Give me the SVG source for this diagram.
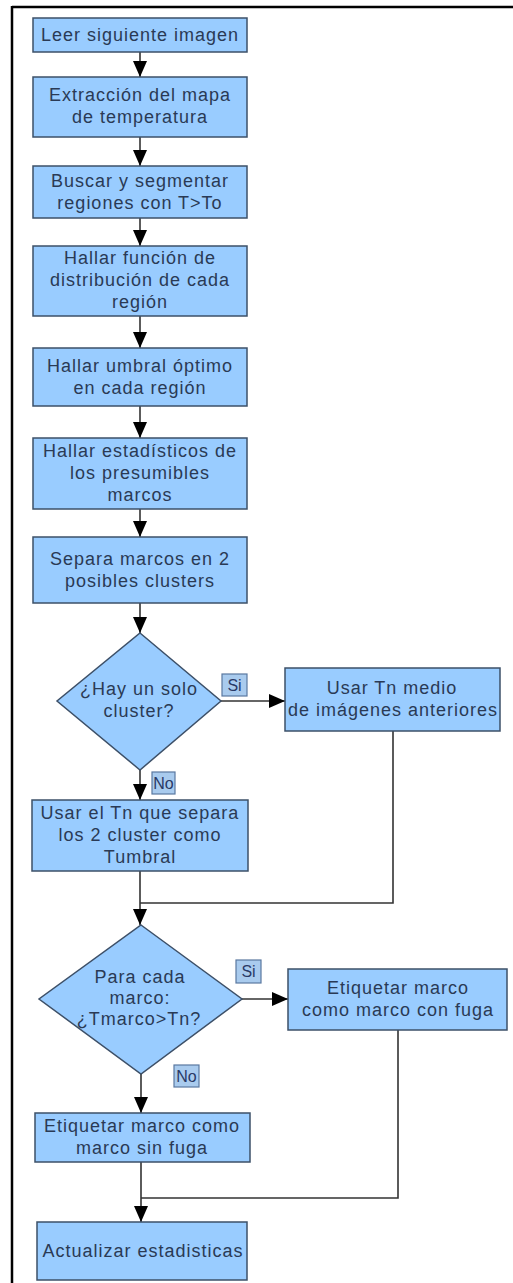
<svg xmlns="http://www.w3.org/2000/svg" width="513" height="1283" viewBox="0 0 513 1283">
<style>
.node{fill:#99ccff;stroke:#3d5068;stroke-width:1.5}
.lbl{fill:#a9cbee;stroke:#5a78a0;stroke-width:1.2}
.t{font-family:"Liberation Sans",Arial,sans-serif;font-size:18px;fill:#2a3a55;text-anchor:middle;letter-spacing:1px}
.ts{font-family:"Liberation Sans",Arial,sans-serif;font-size:16px;fill:#2a3a66;text-anchor:middle}
.c{fill:none;stroke:#333;stroke-width:1.6}
.ca{fill:none;stroke:#333;stroke-width:1.6;marker-end:url(#arr)}
</style>
<defs>
<marker id="arr" viewBox="0 0 16 14" refX="16" refY="7" markerWidth="16" markerHeight="14" markerUnits="userSpaceOnUse" orient="auto">
<path d="M0,0 L16,7 L0,14 z" fill="#000"/>
</marker>
</defs>
<rect width="513" height="1283" fill="#fff"/>
<g id="frame">
<line x1="12" y1="7" x2="513" y2="7" stroke="#000" stroke-width="2.5"/>
<line x1="12" y1="6" x2="12" y2="1283" stroke="#000" stroke-width="2.5"/>
</g>
<g id="connectors">
<path class="ca" d="M140,52 V77"/>
<path class="ca" d="M140,137 V166"/>
<path class="ca" d="M140,218 V246"/>
<path class="ca" d="M140,316 V348"/>
<path class="ca" d="M140,406 V438"/>
<path class="ca" d="M140,509 V537"/>
<path class="ca" d="M140,603 V633"/>
<path class="ca" d="M221,701 H285"/>
<path class="ca" d="M140,770 V800"/>
<path class="ca" d="M140,871 V925"/>
<path class="c" d="M393,731 V903 H140"/>
<path class="ca" d="M242,999 H288"/>
<path class="ca" d="M141,1074 V1113"/>
<path class="ca" d="M141,1162 V1222"/>
<path class="c" d="M398,1030 V1198 H141"/>
</g>
<g id="n1"><rect class="node" x="33" y="18" width="214" height="34"/><text class="t" x="140" y="41">Leer siguiente imagen</text></g>
<g id="n2"><rect class="node" x="33" y="77" width="214" height="60"/><text class="t" x="140" y="101">Extracción del mapa</text><text class="t" x="140" y="123">de temperatura</text></g>
<g id="n3"><rect class="node" x="33" y="166" width="214" height="52"/><text class="t" x="140" y="187">Buscar y segmentar</text><text class="t" x="140" y="209">regiones con T&gt;To</text></g>
<g id="n4"><rect class="node" x="33" y="246" width="214" height="70"/><text class="t" x="140" y="264">Hallar función de</text><text class="t" x="140" y="286">distribución de cada</text><text class="t" x="140" y="308">región</text></g>
<g id="n5"><rect class="node" x="33" y="348" width="214" height="58"/><text class="t" x="140" y="372">Hallar umbral óptimo</text><text class="t" x="140" y="394">en cada región</text></g>
<g id="n6"><rect class="node" x="33" y="438" width="214" height="71"/><text class="t" x="140" y="457">Hallar estadísticos de</text><text class="t" x="140" y="479">los presumibles</text><text class="t" x="140" y="501">marcos</text></g>
<g id="n7"><rect class="node" x="33" y="537" width="214" height="66"/><text class="t" x="140" y="565">Separa marcos en 2</text><text class="t" x="140" y="587">posibles clusters</text></g>
<g id="d1"><polygon class="node" points="140,633 221,701 140,770 57,701"/><text class="t" x="139" y="695">¿Hay un solo</text><text class="t" x="139" y="717">cluster?</text></g>
<g id="n8"><rect class="node" x="285" y="668" width="215" height="63"/><text class="t" x="392" y="694">Usar Tn medio</text><text class="t" x="393" y="716">de imágenes anteriores</text></g>
<g id="n9"><rect class="node" x="32" y="800" width="216" height="71"/><text class="t" x="140" y="819">Usar el Tn que separa</text><text class="t" x="140" y="841">los 2 cluster como</text><text class="t" x="140" y="863">Tumbral</text></g>
<g id="d2"><polygon class="node" points="141,925 242,999 141,1074 39,999"/><text class="t" x="140" y="983">Para cada</text><text class="t" x="140" y="1004">marco:</text><text class="t" x="139" y="1025">¿Tmarco&gt;Tn?</text></g>
<g id="n10"><rect class="node" x="288" y="969" width="219" height="61"/><text class="t" x="398" y="994">Etiquetar marco</text><text class="t" x="398" y="1016">como marco con fuga</text></g>
<g id="n11"><rect class="node" x="35" y="1113" width="215" height="49"/><text class="t" x="142" y="1132">Etiquetar marco como</text><text class="t" x="142" y="1154">marco sin fuga</text></g>
<g id="n12"><rect class="node" x="37" y="1222" width="210" height="58"/><text class="t" x="143" y="1257">Actualizar estadisticas</text></g>
<g id="l1"><rect class="lbl" x="222" y="674" width="25" height="22"/><text class="ts" x="234.5" y="691">Si</text></g>
<g id="l2"><rect class="lbl" x="152" y="772" width="23" height="22"/><text class="ts" x="163.5" y="789">No</text></g>
<g id="l3"><rect class="lbl" x="236" y="960" width="25" height="23"/><text class="ts" x="248.5" y="977">Si</text></g>
<g id="l4"><rect class="lbl" x="174" y="1065" width="25" height="22"/><text class="ts" x="186.5" y="1082">No</text></g>
</svg>
